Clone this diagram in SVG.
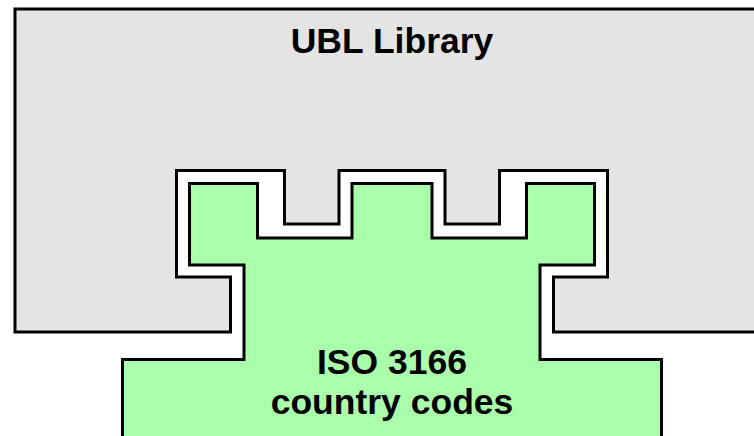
<svg xmlns="http://www.w3.org/2000/svg" width="754" height="436" viewBox="0 0 754 436">
  <style>
    .shape { stroke: #000000; stroke-width: 3; stroke-linejoin: miter; }
    .lib { fill: #E4E4E4; }
    .iso { fill: #AAFFAA; }
    .label { font-family: "Liberation Sans", Arial, sans-serif; font-weight: bold; font-size: 35.5px; fill: #000000; text-anchor: middle; }
  </style>
  <rect x="0" y="0" width="754" height="436" fill="#FFFFFF"/>
  <g id="ubl-library">
    <path class="shape lib" d="M15,9 H762 V332 H553.5 V277 H607.5 V170.5 H499.5 V224 H445 V170.5 H339 V224 H284.5 V170.5 H176.5 V277 H230.5 V332 H15 Z"/>
    <text class="label" x="392" y="53">UBL Library</text>
  </g>
  <g id="iso-3166">
    <path class="shape iso" d="M122.5,442 V359.5 H244 V265 H189.5 V183.5 H257.5 V238 H352 V183.5 H432 V238 H526.5 V183.5 H594.5 V265 H540 V359.5 H661.5 V442 Z"/>
    <text class="label" x="392" y="374">ISO 3166</text>
    <text class="label" x="392" y="414">country codes</text>
  </g>
  <g id="connectors"/>
</svg>
